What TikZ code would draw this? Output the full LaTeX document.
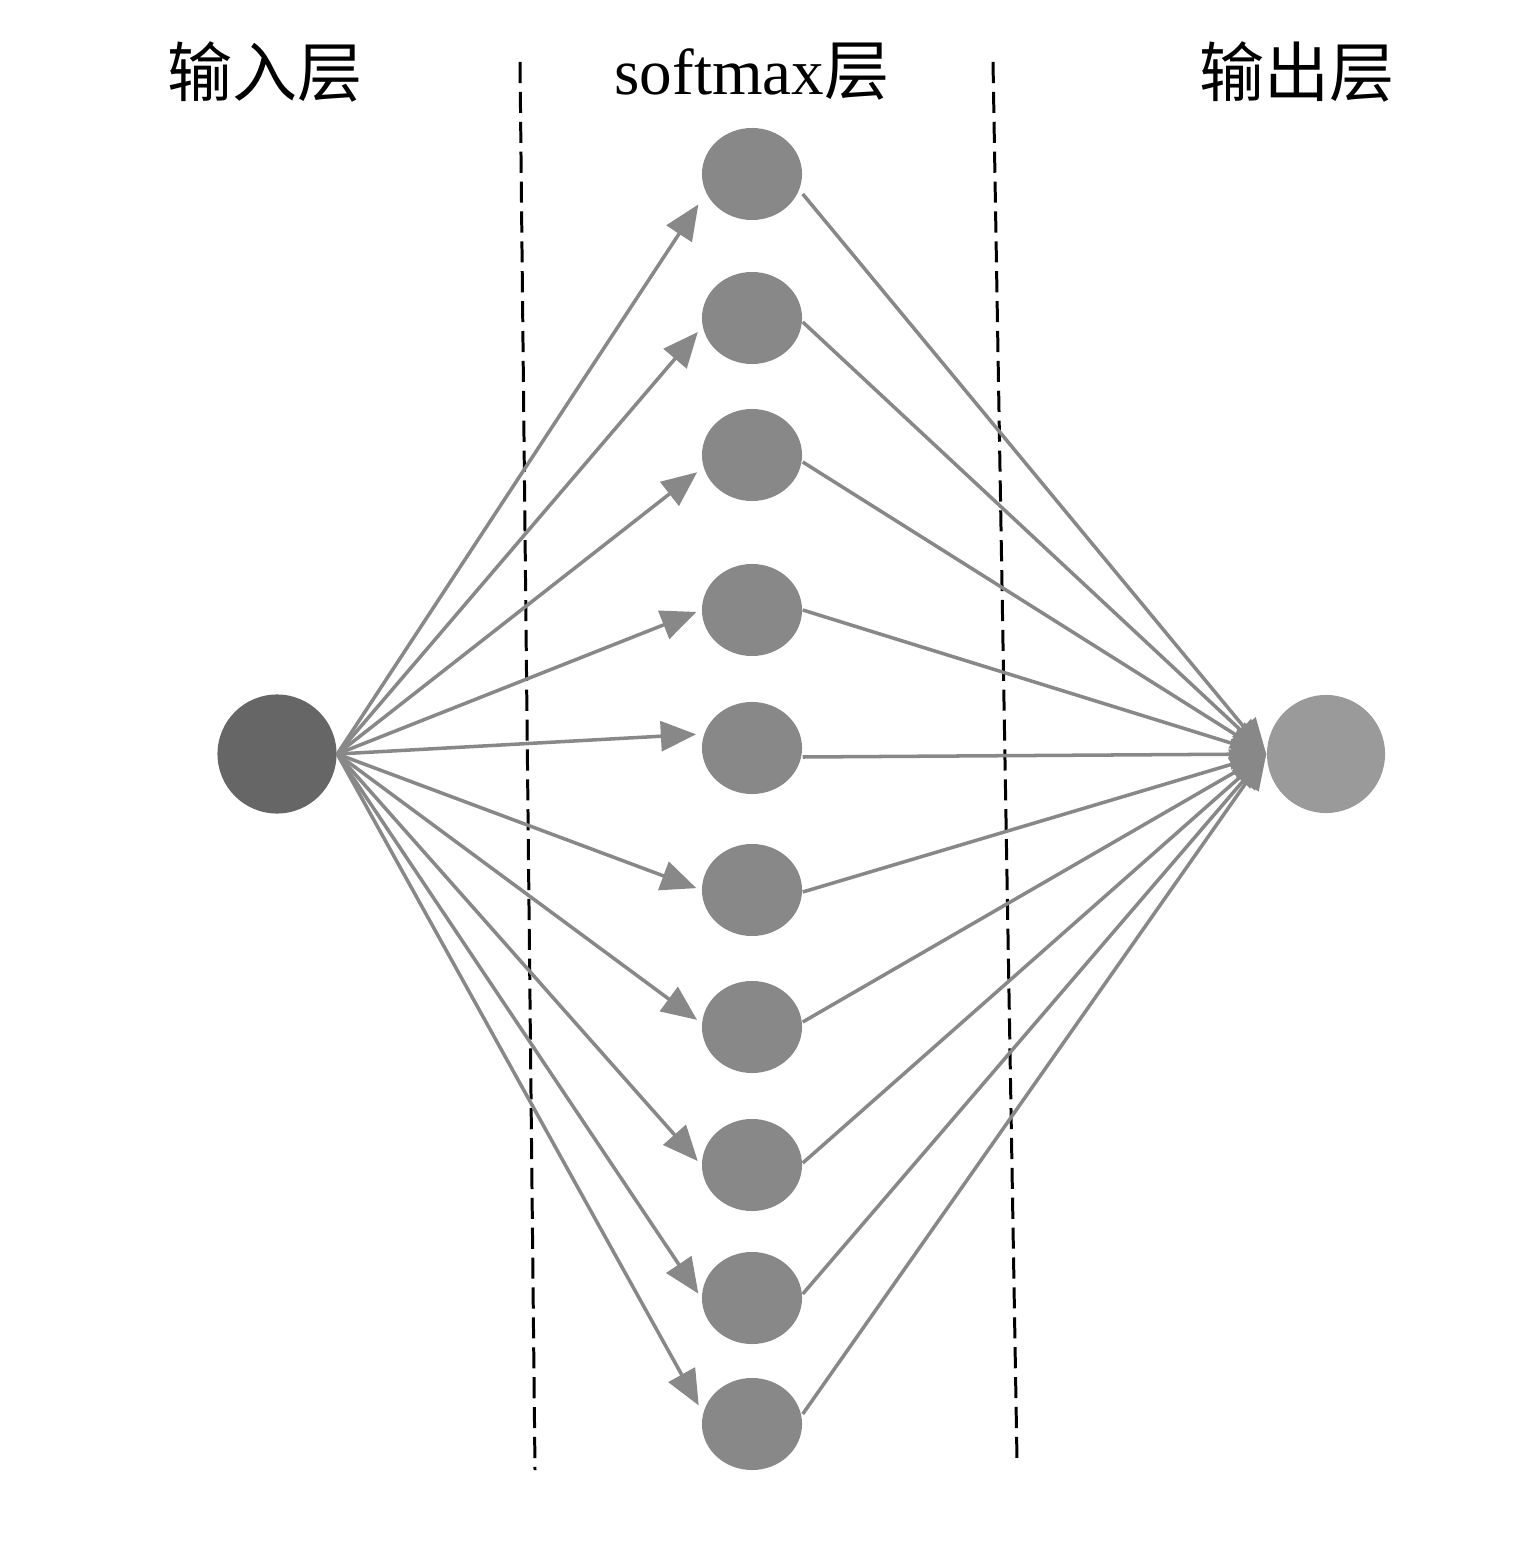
\documentclass[tikz,border=0pt]{standalone}
\usepackage{fontspec}
\setmainfont{Liberation Serif}
\newfontfamily\cjk{Noto Sans CJK SC}
\usetikzlibrary{arrows.meta,shapes.geometric,calc}
\definecolor{indark}{HTML}{666666}
\definecolor{midgray}{HTML}{888888}
\definecolor{outgray}{HTML}{9A9A9A}
\begin{document}
\begin{tikzpicture}[x=0.01cm,y=-0.01cm,
	layertitle/.style={font=\fontsize{18.5}{22}\selectfont},
	inunit/.style={circle,fill=indark,inner sep=0pt,minimum size=1.19cm},
	outunit/.style={circle,fill=outgray,inner sep=0pt,minimum size=1.18cm},
	smunit/.style={ellipse,fill=midgray,inner sep=0pt,minimum width=1cm,minimum height=0.92cm},
	link/.style={draw=midgray,line width=1pt,-{Triangle[length=10pt,width=8.5pt]}},
	divider/.style={black,line width=0.85pt,dash pattern=on 6pt off 2.5pt}]
	\useasboundingbox (0,0) rectangle (1534,1543);
	% layer titles
	\node[layertitle] (tin) at (265,72) {\cjk 输入层};
	\node[layertitle] (tsm) at (752,72) {softmax\cjk 层};
	\node[layertitle] (tout) at (1297,72) {\cjk 输出层};
	% dividers
	\coordinate (d1a) at (520,62);
	\coordinate (d1b) at (535,1470);
	\coordinate (d2a) at (993,62);
	\coordinate (d2b) at (1017,1460);
	\draw[divider] (d1a) -- (d1b);
	\draw[divider] (d2a) -- (d2b);
	% units
	\node[inunit] (in) at (277,754) {};
	\node[outunit] (out) at (1326,754) {};
	\foreach \y [count=\i] in {174,318,455,610,748,890,1027,1165,1298,1424}
	\node[smunit] (m\i) at (752,\y) {};
	% connections
	\foreach \i/\dy/\ey in {1/26/20,2/10/4,3/14/7,4/0/0,5/-14/9,6/0/2,7/-4/-5,8/0/-2,9/0/-4,10/-14/-10} {
		\draw[link,shorten >=1.5pt] (in.east) -- ($(m\i.west)+(0,\dy)$);
		\draw[link] ($(m\i.east)+(0,\ey)$) -- (out.west);
	}
\end{tikzpicture}
\end{document}
